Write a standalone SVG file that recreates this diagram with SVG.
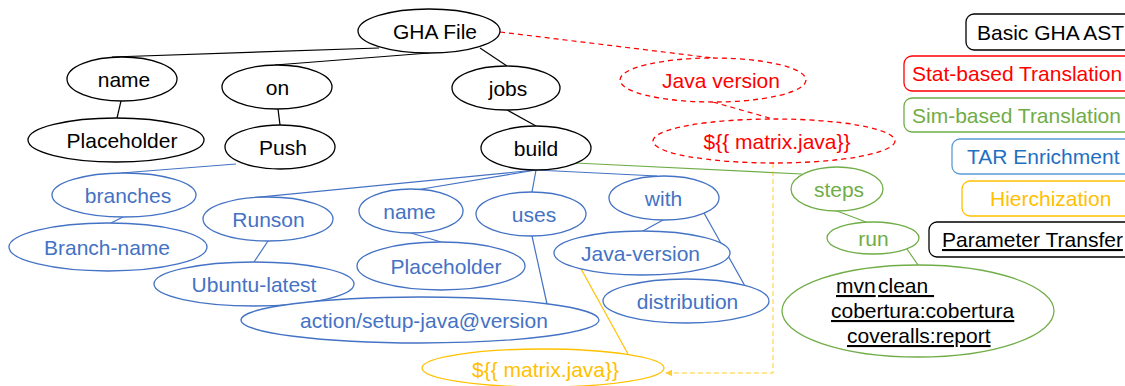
<svg xmlns="http://www.w3.org/2000/svg" width="1125" height="386" viewBox="0 0 1125 386">
  <defs>
    <style>
      text { font-family: "Liberation Sans", Arial, sans-serif; font-size: 21px; text-anchor: middle; }
      .blk ellipse { fill: #fff; stroke: #000; stroke-width: 1.3; }
      .blk text { fill: #000; }
      .blu ellipse { fill: #fff; stroke: #4472c4; stroke-width: 1.3; }
      .blu text { fill: #4472c4; }
      .red ellipse { fill: #fff; stroke: #ff0000; stroke-width: 1.3; stroke-dasharray: 5 4; }
      .red text { fill: #ff0000; }
      .grn ellipse { fill: #fff; stroke: #70ad47; stroke-width: 1.3; }
      .grn text { fill: #70ad47; }
      .ylw ellipse { fill: #fff; stroke: #ffc000; stroke-width: 1.3; }
      .ylw text { fill: #ffc000; }
      .cmd text { fill: #000; text-anchor: start; text-decoration: underline; }
      .legend rect { fill: #fff; stroke-width: 1.3; }
      .legend text { text-anchor: start; }
      .e-blk { stroke: #000; stroke-width: 1.2; fill: none; }
      .e-blu { stroke: #4472c4; stroke-width: 1.2; fill: none; }
      .e-grn { stroke: #70ad47; stroke-width: 1.2; fill: none; }
      .e-ylw { stroke: #ffc000; stroke-width: 1.2; fill: none; }
      .e-red { stroke: #ff0000; stroke-width: 1.2; fill: none; stroke-dasharray: 5 4; }
      .e-ylw-dash { stroke: #ffc000; stroke-width: 1; fill: none; stroke-dasharray: 5 3; opacity: 0.8; }
    </style>
    <marker id="arrowY" viewBox="0 0 10 10" refX="9" refY="5" markerWidth="7" markerHeight="7" orient="auto">
      <path d="M0,0 L10,5 L0,10 z" fill="#ffc000"/>
    </marker>
  </defs>

  <!-- connectors -->
  <g id="connectors">
    <line class="e-blk" x1="379" y1="48" x2="112" y2="57"/>
    <line class="e-blk" x1="429" y1="53" x2="275" y2="65"/>
    <line class="e-blk" x1="480" y1="48" x2="507" y2="66"/>
    <line class="e-blk" x1="121" y1="101" x2="117" y2="118"/>
    <line class="e-blk" x1="278" y1="109" x2="280" y2="125"/>
    <line class="e-blk" x1="507" y1="110" x2="536" y2="126"/>
    <line class="e-red" x1="500" y1="32" x2="713" y2="58"/>
    <line class="e-red" x1="713" y1="102" x2="773" y2="119"/>
    <line class="e-blu" x1="236" y1="164" x2="121" y2="173"/>
    <line class="e-blu" x1="123" y1="217" x2="111" y2="223"/>
    <line class="e-blu" x1="536" y1="170" x2="250" y2="198"/>
    <line class="e-blu" x1="536" y1="170" x2="416" y2="190"/>
    <line class="e-blu" x1="536" y1="170" x2="532" y2="192"/>
    <line class="e-blu" x1="536" y1="170" x2="657" y2="176"/>
    <line class="e-blu" x1="268" y1="241" x2="254" y2="262"/>
    <line class="e-blu" x1="411" y1="233" x2="441" y2="242"/>
    <line class="e-blu" x1="532" y1="236" x2="547" y2="304"/>
    <line class="e-blu" x1="663" y1="220" x2="643" y2="231"/>
    <line class="e-blu" x1="704" y1="213" x2="745" y2="286"/>
    <line class="e-ylw" x1="580" y1="267" x2="628" y2="354"/>
    <line class="e-grn" x1="575" y1="163" x2="802" y2="174"/>
    <line class="e-grn" x1="837" y1="211" x2="866" y2="222"/>
    <line class="e-grn" x1="907" y1="249" x2="918" y2="265"/>
    <polyline class="e-ylw-dash" points="773,163 773,373 666,373" marker-end="url(#arrowY)"/>
  </g>

  <!-- basic AST nodes -->
  <g id="n-gha" class="blk"><ellipse cx="429" cy="31" rx="71" ry="22"/><text x="435" y="38.5">GHA File</text></g>
  <g id="n-name" class="blk"><ellipse cx="122" cy="79" rx="55" ry="22"/><text x="124" y="86.5">name</text></g>
  <g id="n-on" class="blk"><ellipse cx="277" cy="87" rx="55" ry="22"/><text x="277.5" y="94.5">on</text></g>
  <g id="n-jobs" class="blk"><ellipse cx="506" cy="88" rx="54" ry="22"/><text x="508" y="95.5">jobs</text></g>
  <g id="n-placeholder" class="blk"><ellipse cx="116" cy="140" rx="88" ry="22"/><text x="122" y="147.5">Placeholder</text></g>
  <g id="n-push" class="blk"><ellipse cx="280" cy="147" rx="55" ry="22"/><text x="283" y="154.5">Push</text></g>
  <g id="n-build" class="blk"><ellipse cx="536" cy="148" rx="55" ry="22"/><text x="536" y="155.5">build</text></g>

  <!-- stat-based translation nodes -->
  <g id="n-java-version" class="red"><ellipse cx="713" cy="80" rx="93" ry="22"/><text x="721" y="87.5">Java version</text></g>
  <g id="n-matrix-red" class="red"><ellipse cx="774" cy="141" rx="121" ry="22"/><text x="777" y="148.5">${{ matrix.java}}</text></g>

  <!-- TAR enrichment nodes -->
  <g id="n-branches" class="blu"><ellipse cx="124" cy="195" rx="72" ry="22"/><text x="128" y="202.5">branches</text></g>
  <g id="n-branch-name" class="blu"><ellipse cx="108" cy="247" rx="99" ry="24"/><text x="107" y="254.5">Branch-name</text></g>
  <g id="n-runson" class="blu"><ellipse cx="268" cy="219" rx="65" ry="22"/><text x="268.5" y="226.5">Runson</text></g>
  <g id="n-ubuntu" class="blu"><ellipse cx="254" cy="284" rx="100" ry="22"/><text x="254" y="291.5">Ubuntu-latest</text></g>
  <g id="n-name2" class="blu"><ellipse cx="411" cy="211" rx="52" ry="22"/><text x="409.5" y="218.5">name</text></g>
  <g id="n-placeholder2" class="blu"><ellipse cx="441" cy="266" rx="84" ry="24"/><text x="446" y="273.5">Placeholder</text></g>
  <g id="n-uses" class="blu"><ellipse cx="531" cy="214" rx="55" ry="22"/><text x="534" y="221.5">uses</text></g>
  <g id="n-action" class="blu"><ellipse cx="420" cy="320" rx="179" ry="23"/><text x="424" y="327.5">action/setup-java@version</text></g>
  <g id="n-with" class="blu"><ellipse cx="664" cy="198" rx="55" ry="22"/><text x="663.5" y="205.5">with</text></g>
  <g id="n-java-version2" class="blu"><ellipse cx="642" cy="253" rx="88" ry="22"/><text x="640.5" y="260.5">Java-version</text></g>
  <g id="n-distribution" class="blu"><ellipse cx="686" cy="301" rx="83" ry="22"/><text x="687.5" y="308.5">distribution</text></g>

  <!-- hierarchization node -->
  <g id="n-matrix-ylw" class="ylw"><ellipse cx="543" cy="368" rx="121" ry="19"/><text x="545.5" y="377">${{ matrix.java}}</text></g>

  <!-- sim-based translation nodes -->
  <g id="n-steps" class="grn"><ellipse cx="837" cy="189" rx="46" ry="22"/><text x="839" y="196.5">steps</text></g>
  <g id="n-run" class="grn"><ellipse cx="873" cy="238" rx="46" ry="16"/><text x="873.5" y="245.5">run</text></g>
  <g id="n-cmd" class="grn cmd">
    <ellipse cx="918" cy="311" rx="136" ry="46"/>
    <text x="836" y="293">mvn</text>
    <text x="878" y="293">clean&#160;</text>
    <text x="831" y="318">cobertura:cobertura</text>
    <text x="847" y="343">coveralls:report</text>
  </g>

  <!-- legend -->
  <g id="legend" class="legend">
    <g id="lg-basic"><rect x="966" y="14" width="170" height="36" rx="8" stroke="#000"/><text x="977" y="39.5" fill="#000">Basic GHA AST</text></g>
    <g id="lg-stat"><rect x="904" y="56" width="232" height="35" rx="8" stroke="#ff0000"/><text x="912" y="81" fill="#ff0000">Stat-based Translation</text></g>
    <g id="lg-sim"><rect x="904" y="98" width="232" height="34" rx="8" stroke="#70ad47"/><text x="912" y="122.5" fill="#70ad47">Sim-based Translation</text></g>
    <g id="lg-tar"><rect x="952" y="139" width="184" height="35" rx="8" stroke="#5b9bd5"/><text x="967" y="164" fill="#1f70c1">TAR Enrichment</text></g>
    <g id="lg-hier"><rect x="962" y="181" width="174" height="35" rx="8" stroke="#ffc000"/><text x="990" y="206" fill="#ffc000">Hierchization</text></g>
    <g id="lg-param"><rect x="929" y="222" width="207" height="35" rx="8" stroke="#000"/><text x="942" y="247" fill="#000" text-decoration="underline">Parameter Transfer</text></g>
  </g>
</svg>
